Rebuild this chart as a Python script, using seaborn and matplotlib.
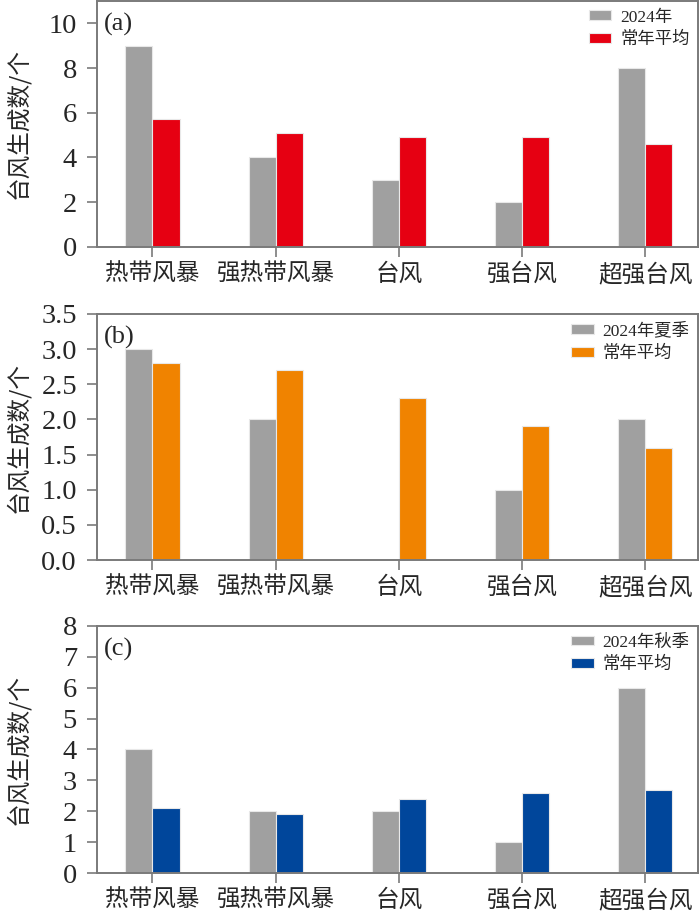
import matplotlib
matplotlib.use("Agg")
import matplotlib.pyplot as plt
import seaborn as sns
import pandas as pd

categories = ["热带风暴", "强热带风暴", "台风", "强台风", "超强台风"]

a_2024 = [9, 4, 3, 2, 8]
a_norm = [5.7, 5.1, 4.9, 4.9, 4.6]
b_2024 = [3, 2, 0, 1, 2]
b_norm = [2.8, 2.7, 2.3, 1.9, 1.6]
c_2024 = [4, 2, 2, 1, 6]
c_norm = [2.1, 1.9, 2.4, 2.6, 2.7]

series_a = ["2024年", "常年平均"]
series_b = ["2024年夏季", "常年平均"]
series_c = ["2024年秋季", "常年平均"]

panel_labels = ["(a)", "(b)", "(c)"]
ylims = [11, 3.5, 8]
yticks_list = [[0, 2, 4, 6, 8, 10],
               [0, 0.5, 1.0, 1.5, 2.0, 2.5, 3.0, 3.5],
               [0, 1, 2, 3, 4, 5, 6, 7, 8]]
ytick_labels = [["0", "2", "4", "6", "8", "10"],
                ["0.0", "0.5", "1.0", "1.5", "2.0", "2.5", "3.0", "3.5"],
                ["0", "1", "2", "3", "4", "5", "6", "7", "8"]]

gray = "#a0a0a0"
colors = ["#e60012", "#f08300", "#00469b"]

sns.set_theme(style="white")
plt.rcParams["font.family"] = ["Liberation Serif", "Noto Sans CJK SC"]
plt.rcParams["axes.unicode_minus"] = False

fig = plt.figure(figsize=(7.0, 9.13), dpi=100)
positions = [
    [0.1386, 0.7295, 0.859, 0.2695],
    [0.1386, 0.3866, 0.859, 0.2695],
    [0.1386, 0.0438, 0.859, 0.2706],
]

datasets = [(a_2024, a_norm, series_a), (b_2024, b_norm, series_b), (c_2024, c_norm, series_c)]
spine_color = "#7a7a7a"

for i, (pos, (v1, v2, names)) in enumerate(zip(positions, datasets)):
    ax = fig.add_axes(pos)
    df = pd.DataFrame({
        "cat": categories * 2,
        "val": list(v1) + list(v2),
        "series": [names[0]] * len(categories) + [names[1]] * len(categories),
    })
    sns.barplot(data=df, x="cat", y="val", hue="series", order=categories,
                hue_order=names, palette=[gray, colors[i]], width=0.44,
                edgecolor="#e8e8e8", linewidth=0.8, ax=ax, saturation=1)
    ax.set_xlim(-0.45, 4.43)
    ax.set_ylim(0, ylims[i])
    ax.set_yticks(yticks_list[i])
    ax.set_yticklabels(ytick_labels[i], fontsize=20.5)
    ax.set_xlabel("")
    ax.set_ylabel("台风生成数/个", fontsize=17, family=["Noto Sans CJK SC"])
    ax.yaxis.set_label_coords(-0.112, 0.5)
    for lab in ax.get_xticklabels():
        lab.set_fontsize(17)
        lab.set_family(["Noto Sans CJK SC"])
    ax.tick_params(axis="both", direction="out", length=7.5, width=1.2, color=spine_color,
                   bottom=True, left=True)
    ax.tick_params(axis="y", pad=7)
    ax.tick_params(axis="x", pad=4)
    for s in ax.spines.values():
        s.set_color(spine_color)
        s.set_linewidth(1.4)
    ax.text(0.012, 0.95, panel_labels[i], transform=ax.transAxes, fontsize=19,
            ha="left", va="top", family=["Liberation Serif"])
    leg = ax.legend(loc="upper right", frameon=False, fontsize=12.5,
                    handlelength=1.3, handleheight=0.5, handletextpad=0.5,
                    labelspacing=0.35, borderaxespad=0.3, borderpad=0.2)
    for t in leg.get_texts():
        t.set_family(["Liberation Serif", "Noto Sans CJK SC"])

fig.savefig("out.png", dpi=100)
